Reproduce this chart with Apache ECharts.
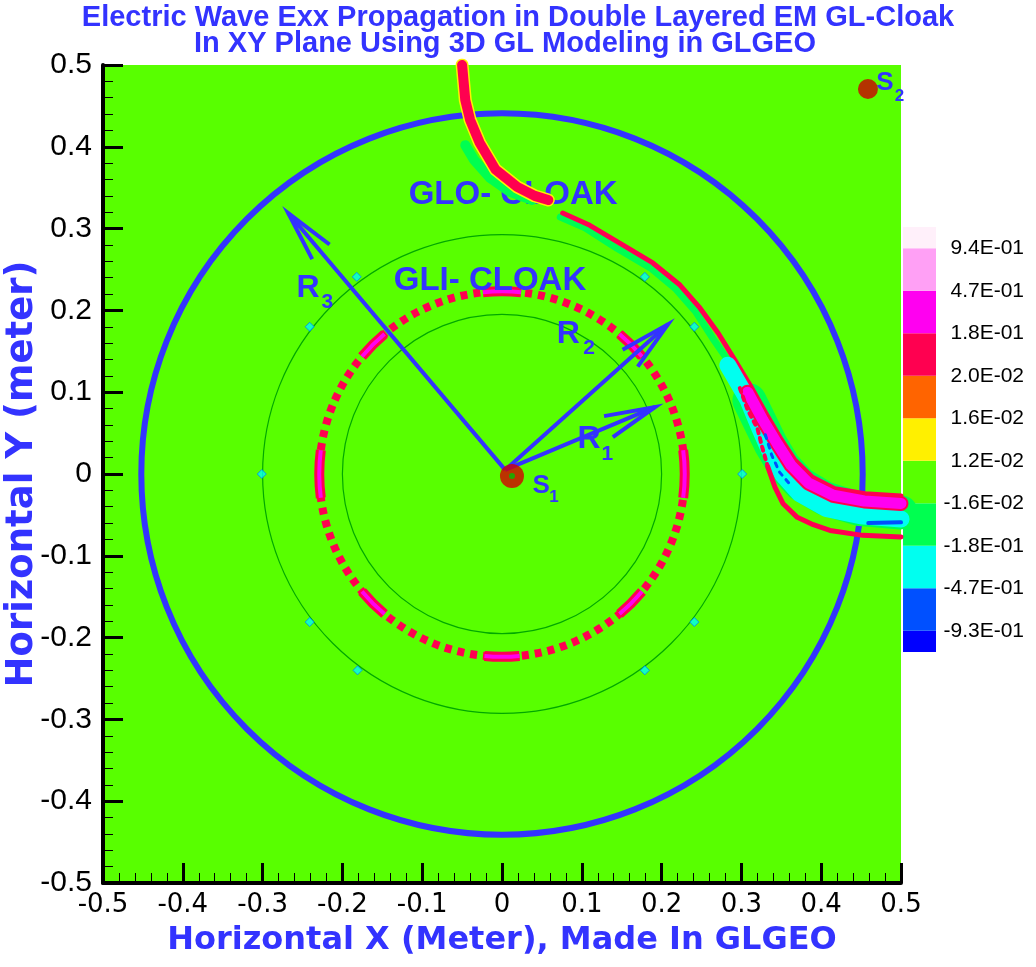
<!DOCTYPE html>
<html>
<head>
<meta charset="utf-8">
<script src="https://cdn.jsdelivr.net/npm/echarts@6.0.0/dist/echarts.min.js"></script>
<style>
html, body { margin: 0; padding: 0; background: #fff; }
#main { width: 1036px; height: 967px; }
</style>
</head>
<body>
<div id="main"></div>
<script>
/*
 * Exx field in the double layered cloak, XY plane
 */
var titleLine1 = 'Electric Wave Exx Propagation in Double Layered EM GL-Cloak';
var titleLine2 = 'In XY Plane Using 3D GL Modeling in GLGEO';

// colour legend, bottom to top
var legendLabels = ['-9.3E-01', '-4.7E-01', '-1.8E-01', '-1.6E-02', '1.2E-02', '1.6E-02', '2.0E-02', '1.8E-01', '4.7E-01', '9.4E-01'];
var legendColors = ['#0000FF', '#0050FF', '#00FFF0', '#00FF50', '#58FF00', '#FFF000', '#FF6400', '#FF0050', '#FF00F0', '#FFA0F5', '#FFF0FA'];
var legendEdges = [0, 0.5, 1.5, 2.5, 3.5, 4.5, 5.5, 6.5, 7.5, 8.5, 9.5, 10];

// circles: [cx, cy, r] in meter
var cloakCircle = [[0, 0, 0.452]];
var guideCircles = [[0, 0, 0.300], [0, 0, 0.200]];
var ringCircle = [[0, 0, 0.229]];
// bright parts of the ring: [angle deg, span deg]
var ringSegments = [[90, 12], [270, 11], [0, 15], [180, 15], [45, 10], [135, 10], [225, 10], [315, 10]];
// small markers on the 0.3 m circle
var guideDots = [[-0.241, 0.180], [0.241, 0.180], [-0.241, -0.181], [0.241, -0.181],
                 [-0.182, 0.241], [0.179, 0.241], [-0.181, -0.240], [0.179, -0.240],
                 [-0.301, 0], [0.301, 0]];

// wave front, upper stripe coming in from the top
var upperStripe = [[-0.050, 0.500], [-0.046, 0.457], [-0.040, 0.433], [-0.028, 0.405], [-0.008, 0.372], [0.019, 0.351], [0.041, 0.340], [0.058, 0.335]];
var upperHalo = [[-0.046, 0.402], [-0.035, 0.384], [-0.015, 0.362], [0.010, 0.345], [0.038, 0.335]];
// wave bent around the cloak
var edgeTop = [[0.076, 0.319], [0.110, 0.304], [0.148, 0.282], [0.189, 0.258], [0.223, 0.231], [0.248, 0.203], [0.271, 0.172], [0.292, 0.139], [0.313, 0.105], [0.332, 0.072], [0.350, 0.042], [0.367, 0.017], [0.389, -0.004], [0.417, -0.018], [0.455, -0.024], [0.500, -0.027]];
var bendHaloTop = [[0.073, 0.314], [0.104, 0.301], [0.144, 0.276], [0.186, 0.252], [0.218, 0.226], [0.243, 0.198], [0.264, 0.166], [0.286, 0.135], [0.300, 0.110]];
var bendHalo = [[0.310, 0.090], [0.324, 0.062], [0.337, 0.036], [0.353, 0.010], [0.374, -0.012], [0.405, -0.030], [0.449, -0.043], [0.500, -0.047]];
var magentaBand = [[0.308, 0.100], [0.327, 0.066], [0.345, 0.037], [0.362, 0.011], [0.384, -0.011], [0.415, -0.026], [0.454, -0.033], [0.500, -0.036]];
var cyanBand = [[0.283, 0.133], [0.308, 0.091], [0.323, 0.056], [0.336, 0.027], [0.352, -0.001], [0.373, -0.024], [0.406, -0.042], [0.449, -0.051], [0.500, -0.055]];
var edgeLowDots = [[0.298, 0.105], [0.308, 0.078], [0.320, 0.056], [0.326, 0.033], [0.333, 0.009]];
var edgeLow = [[0.333, 0.009], [0.342, -0.016], [0.352, -0.036], [0.370, -0.053], [0.390, -0.062], [0.411, -0.069], [0.452, -0.075], [0.500, -0.077]];
var blueDash = [[0.330, 0.048], [0.338, 0.023], [0.348, 0.002], [0.363, -0.015]];
var blueStreak = [[0.459, -0.060], [0.500, -0.059]];

// sources
var sourceS1 = [[0.0125, -0.0024]];
var sourceS2 = [[0.4586, 0.4707]];

// radius arrows
var arrowBase = [0.004, 0.005];
var arrowTips = [[-0.268, 0.319], [0.208, 0.183], [0.192, 0.082]];

// text on the plot
var annoText = ['GLO- CLOAK', 'GLI- CLOAK', 'R', '3', 'R', '2', 'R', '1', 'S', '1', 'S', '2'];
var annoPos = [[0.014, 0.341], [-0.015, 0.236], [-0.243, 0.227], [-0.219, 0.210], [0.083, 0.171], [0.109, 0.154],
               [0.109, 0.042], [0.132, 0.024], [0.049, -0.015], [0.065, -0.029], [0.480, 0.478], [0.498, 0.462]];
var annoFont = [33, 33, 32, 21, 32, 21, 32, 21, 26, 17, 26, 17];

var BLUE = '#3333FF';
var GREEN = '#58FF00';

function tickFmt(v) {
  var r = Math.round(v * 10) / 10;
  return r === 0 ? '0' : String(r);
}

function pathLine(data, color, width, dash) {
  return {
    type: 'line', data: data, symbol: 'none', silent: true, animation: false,
    lineStyle: { color: color, width: width, cap: 'round', join: 'round', type: dash || 'solid' }
  };
}

function circleSeries(data, color, width, dash) {
  return {
    type: 'custom', data: data, silent: true, animation: false,
    renderItem: function (params, api) {
      var c = api.coord([api.value(0), api.value(1)]);
      var r = api.size([api.value(2), 0])[0];
      return {
        type: 'arc',
        shape: { cx: c[0], cy: c[1], r: r, startAngle: 0, endAngle: Math.PI * 2 },
        style: { stroke: color, lineWidth: width, fill: 'none', lineDash: dash || null }
      };
    }
  };
}

var arrowData = arrowTips.map(function (t) { return [arrowBase[0], arrowBase[1], t[0], t[1]]; });
var ringSegData = ringSegments.map(function (s) { return [ringCircle[0][0], ringCircle[0][1], ringCircle[0][2], s[0], s[1]]; });
var legendData = legendColors.map(function (c, i) { return [0, legendEdges[i], legendEdges[i + 1]]; });
var legendTickPos = legendLabels.map(function (l, i) { return legendEdges[i + 1]; });

var titleStyle = { fontSize: 29, fontWeight: 'bold', color: BLUE, fontFamily: 'Liberation Sans', lineHeight: 26 };

var chart = echarts.init(document.getElementById('main'));

var option = {
  backgroundColor: '#ffffff',
  animation: false,
  title: [
    { text: titleLine1, left: 513, top: 0, textAlign: 'center', textStyle: titleStyle },
    { text: titleLine2, left: 500, top: 26, textAlign: 'center', textStyle: titleStyle }
  ],
  grid: [
    { left: 103, top: 65, width: 798, height: 818, show: true, backgroundColor: GREEN, borderWidth: 0, outerBoundsMode: 'none' },
    { left: 903, top: 227, width: 33, height: 425, show: false, outerBoundsMode: 'none' }
  ],
  xAxis: [
    {
      type: 'value', gridIndex: 0, min: -0.5, max: 0.5, interval: 0.1,
      name: 'Horizontal X (Meter), Made In GLGEO', nameLocation: 'middle', nameGap: 42, nameMoveOverlap: false,
      nameTextStyle: { fontSize: 32, fontWeight: 'bold', color: BLUE, fontFamily: 'DejaVu Sans' },
      axisLine: { show: true, onZero: false, lineStyle: { color: '#000', width: 4 } },
      axisTick: { show: true, inside: true, length: 20, lineStyle: { color: '#000', width: 3 } },
      minorTick: { show: true, splitNumber: 5, length: 10, lineStyle: { color: '#000', width: 1 } },
      splitLine: { show: false },
      axisLabel: { formatter: tickFmt, fontSize: 26, color: '#000', fontFamily: 'DejaVu Sans', margin: 9, showMinLabel: true, showMaxLabel: true }
    },
    { type: 'value', gridIndex: 1, min: 0, max: 1, show: false }
  ],
  yAxis: [
    {
      type: 'value', gridIndex: 0, min: -0.5, max: 0.5, interval: 0.1,
      name: 'Horizontal Y (meter)', nameLocation: 'middle', nameGap: 62, nameRotate: 90, nameMoveOverlap: false,
      nameTextStyle: { fontSize: 37, fontWeight: 'bold', color: BLUE, fontFamily: 'DejaVu Sans' },
      axisLine: { show: true, onZero: false, lineStyle: { color: '#000', width: 4 } },
      axisTick: { show: true, inside: true, length: 20, lineStyle: { color: '#000', width: 3 } },
      minorTick: { show: true, splitNumber: 5, length: 10, lineStyle: { color: '#000', width: 1 } },
      splitLine: { show: false },
      axisLabel: { formatter: tickFmt, fontSize: 30, color: '#000', fontFamily: 'Liberation Sans', margin: 11, showMinLabel: true, showMaxLabel: true }
    },
    {
      type: 'value', gridIndex: 1, min: 0, max: 10, position: 'right',
      axisLine: { show: false }, axisTick: { show: false }, splitLine: { show: false },
      axisLabel: {
        customValues: legendTickPos,
        formatter: function (v) {
          var i = legendTickPos.indexOf(v);
          return i >= 0 ? legendLabels[i] : '';
        },
        fontSize: 21, color: '#000', fontFamily: 'Liberation Sans', align: 'right', margin: 88
      }
    }
  ],
  series: [
    // field
    pathLine(upperHalo, '#00FF50', 10),
    pathLine(upperStripe, '#FFF000', 13),
    pathLine(upperStripe, '#FF0050', 10),
    pathLine(bendHaloTop, '#00FF50', 7),
    pathLine(bendHalo, '#00FF50', 34),
    pathLine(edgeTop, '#FF0050', 5),
    pathLine(cyanBand, '#00FFF0', 17),
    pathLine(magentaBand, '#FF0050', 15),
    pathLine(magentaBand, '#FF00F0', 11),
    pathLine(edgeLowDots, '#FF0050', 4, [4, 5]),
    pathLine(edgeLow, '#FF0050', 5),
    pathLine(blueDash, '#0050FF', 3, [4, 6]),
    pathLine(blueStreak, '#0050FF', 4),
    // geometry
    circleSeries(guideCircles, '#00A800', 1.2),
    circleSeries(ringCircle, '#FF0050', 8, [7, 6]),
    {
      type: 'custom', data: ringSegData, silent: true, animation: false,
      renderItem: function (params, api) {
        var c = api.coord([api.value(0), api.value(1)]);
        var r = api.size([api.value(2), 0])[0];
        var a = api.value(3), s = api.value(4);
        var sa = -(a + s / 2) * Math.PI / 180, ea = -(a - s / 2) * Math.PI / 180;
        return {
          type: 'group', children: [
            { type: 'arc', shape: { cx: c[0], cy: c[1], r: r, startAngle: sa, endAngle: ea }, style: { stroke: '#FF0050', lineWidth: 10, fill: 'none' } },
            { type: 'arc', shape: { cx: c[0], cy: c[1], r: r, startAngle: sa, endAngle: ea }, style: { stroke: '#FF00F0', lineWidth: 4, fill: 'none' } }
          ]
        };
      }
    },
    {
      type: 'scatter', data: guideDots, symbol: 'diamond', symbolSize: 9, silent: true, animation: false,
      itemStyle: { color: '#00FFF0', borderColor: '#0080FF', borderWidth: 1 }
    },
    circleSeries(cloakCircle, BLUE, 6),
    {
      type: 'custom', data: arrowData, silent: true, animation: false,
      renderItem: function (params, api) {
        var p0 = api.coord([api.value(0), api.value(1)]);
        var p1 = api.coord([api.value(2), api.value(3)]);
        var ang = Math.atan2(p0[1] - p1[1], p0[0] - p1[0]);
        var L = 52, w = 0.22;
        var b1 = [p1[0] + L * Math.cos(ang + w), p1[1] + L * Math.sin(ang + w)];
        var b2 = [p1[0] + L * Math.cos(ang - w), p1[1] + L * Math.sin(ang - w)];
        var st = { stroke: BLUE, lineWidth: 4, fill: 'none' };
        return {
          type: 'group', children: [
            { type: 'line', shape: { x1: p0[0], y1: p0[1], x2: p1[0], y2: p1[1] }, style: st },
            { type: 'polyline', shape: { points: [b1, p1, b2] }, style: st }
          ]
        };
      }
    },
    { type: 'scatter', data: sourceS1, symbolSize: 24, silent: true, animation: false, itemStyle: { color: '#D40000' } },
    { type: 'scatter', data: sourceS1, symbolSize: 6, silent: true, animation: false, itemStyle: { color: '#00C000' } },
    { type: 'scatter', data: sourceS2, symbolSize: 20, silent: true, animation: false, itemStyle: { color: '#CC0000' } },
    {
      type: 'custom', data: annoPos, silent: true, animation: false,
      renderItem: function (params, api) {
        var p = api.coord([api.value(0), api.value(1)]);
        return {
          type: 'text', x: p[0], y: p[1],
          style: {
            text: annoText[params.dataIndex], fontSize: annoFont[params.dataIndex], fontWeight: 'bold',
            fontFamily: 'Liberation Sans', fill: BLUE, align: 'center', verticalAlign: 'middle'
          }
        };
      }
    },
    // colour legend
    {
      type: 'custom', xAxisIndex: 1, yAxisIndex: 1, data: legendData, silent: true, animation: false,
      encode: { x: 0, y: [1, 2] },
      renderItem: function (params, api) {
        var lo = api.coord([0, api.value(1)]);
        var hi = api.coord([1, api.value(2)]);
        return {
          type: 'rect',
          shape: { x: lo[0], y: hi[1], width: hi[0] - lo[0], height: lo[1] - hi[1] },
          style: { fill: legendColors[params.dataIndex] }
        };
      }
    }
  ]
};

chart.setOption(option);
</script>
</body>
</html>
